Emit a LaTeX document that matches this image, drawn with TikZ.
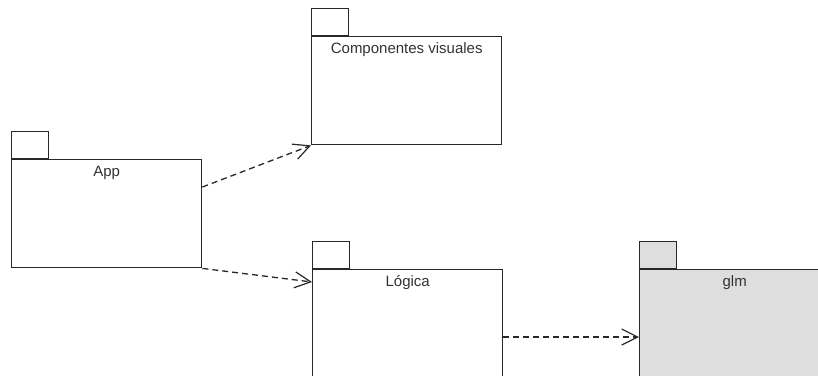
\documentclass[tikz,border=0pt]{standalone}
\usepackage{fontspec}
\setmainfont{Liberation Sans}
\usetikzlibrary{arrows.meta}

\definecolor{pkgline}{RGB}{40,40,40}
\definecolor{pkggray}{RGB}{222,222,222}

\tikzset{
  pkg/.style={draw=pkgline, line width=1.4pt, fill=white, minimum width=190pt, minimum height=108pt, anchor=north west, inner sep=0pt},
  pkgtab/.style={draw=pkgline, line width=1.4pt, fill=white, minimum width=37pt, minimum height=27pt, anchor=south west, inner sep=0pt},
  pkgname/.style={anchor=north, inner sep=0pt, yshift=-6pt, text height=11pt, text depth=3pt, text=black!80, font=\fontsize{15}{17}\selectfont},
  dep/.style={draw=pkgline, dash pattern=on 6pt off 4pt, line width=1.3pt, -{Straight Barb[length=16pt,width=16pt,line width=1.2pt]}}
}

\begin{document}
\begin{tikzpicture}[x=1pt,y=-1pt]
    \useasboundingbox (0,0) rectangle (818,375);
    \clip (0,0) rectangle (818,375);
    % packages
    \node[pkg] (app) at (11,159) {};
    \node[pkgtab] (apptab) at (app.north west) {};
    \node[pkgname] (appname) at (app.north) {App};
    \node[pkg] (comp) at (311,36) {};
    \node[pkgtab] (comptab) at (comp.north west) {};
    \node[pkgname] (compname) at (comp.north) {Componentes visuales};
    \node[pkg] (log) at (312,269) {};
    \node[pkgtab] (logtab) at (log.north west) {};
    \node[pkgname] (logname) at (log.north) {Lógica};
    \node[pkg, fill=pkggray] (glm) at (639,269) {};
    \node[pkgtab, fill=pkggray] (glmtab) at (glm.north west) {};
    \node[pkgname] (glmname) at (glm.north) {glm};
    % dependencies
    \draw[dep] ([yshift=-28pt]app.north east) -- (comp.south west);
    \draw[dep] (app.south east) -- ([yshift=-13pt]log.north west);
    \draw[dep] ([yshift=-68pt]log.north east) -- ([yshift=-68pt]glm.north west);
\end{tikzpicture}
\end{document}
